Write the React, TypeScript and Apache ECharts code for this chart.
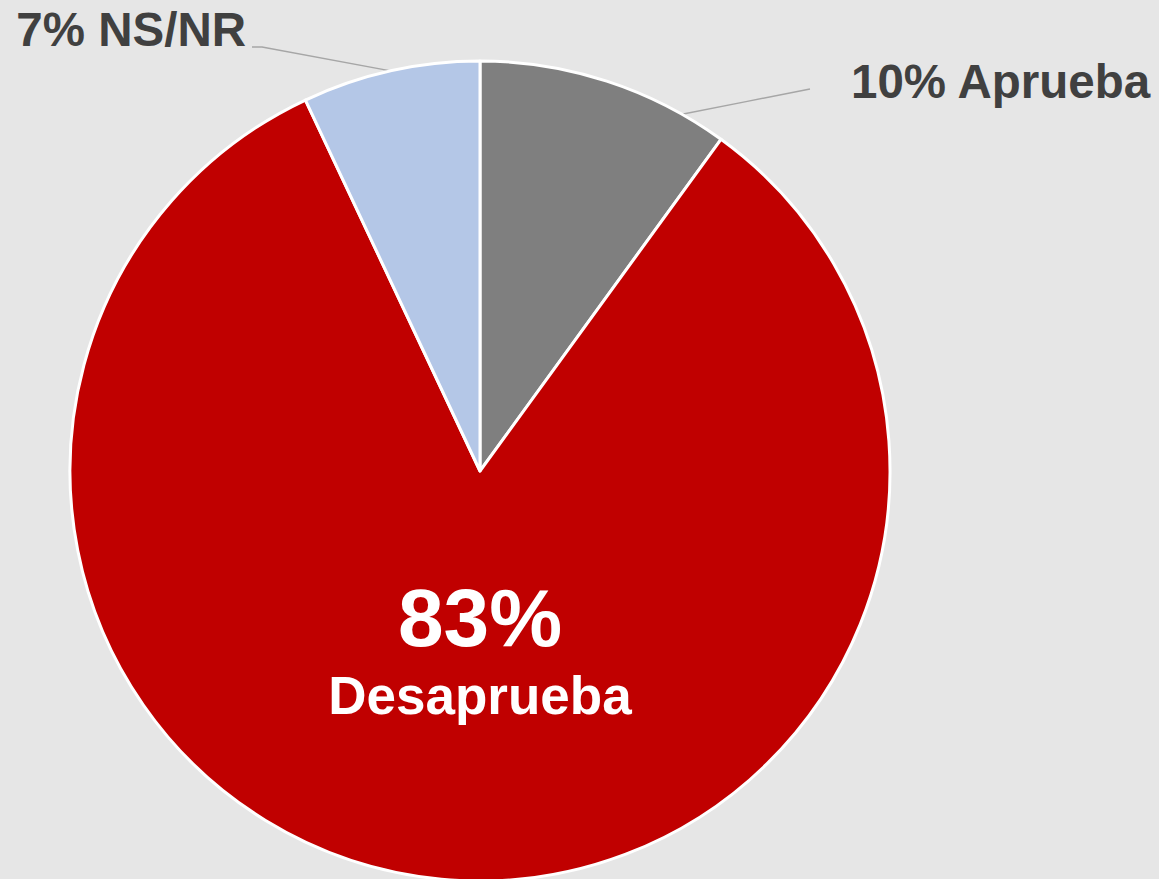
import React, { useEffect, useRef } from "react";
import * as echarts from "echarts";

const categories = ["Aprueba", "Desaprueba", "NS/NR"];
const values = [10, 83, 7];
const colors = ["#7f7f7f", "#c00000", "#b4c7e7"];

const CENTER = [480, 471];
const RADIUS = 410;
const FONT = "'Liberation Sans', Arial, Helvetica, sans-serif";

export default function App() {
  const ref = useRef<HTMLDivElement>(null);

  useEffect(() => {
    document.body.style.margin = "0";
    const chart = echarts.init(ref.current!, null, { renderer: "svg" });
    const total = values.reduce((a, b) => a + b, 0);

    const edgePoint = (idx: number, frac: number) => {
      let start = 0;
      for (let i = 0; i < idx; i++) start += values[i];
      const a = ((start + values[idx] * frac) / total) * Math.PI * 2;
      return [CENTER[0] + RADIUS * Math.sin(a), CENTER[1] - RADIUS * Math.cos(a)];
    };

    const aStart = edgePoint(0, 0.82);
    const aEnd = [810, 89];
    const aMid = [(aStart[0] + aEnd[0]) / 2, (aStart[1] + aEnd[1]) / 2];

    const layouts: Record<number, any> = {
      0: {
        x: 851,
        y: 81,
        align: "left",
        verticalAlign: "middle",
        labelLinePoints: [aStart, aMid, aEnd],
      },
      1: { x: 480, y: 650, align: "center", verticalAlign: "middle" },
      2: {
        x: 246,
        y: 29,
        align: "right",
        verticalAlign: "middle",
        labelLinePoints: [edgePoint(2, 0.5), [262, 47], [252, 47]],
      },
    };

    const data = categories.map((name, i) => {
      const item: any = {
        name,
        value: values[i],
        itemStyle: { color: colors[i] },
      };
      if (name === "Desaprueba") {
        item.label = {
          position: "inside",
          formatter: `{a|${values[i]}%}\n{b|${name}}`,
          rich: {
            a: {
              fontSize: 82,
              fontWeight: "bold",
              color: "#ffffff",
              fontFamily: FONT,
              lineHeight: 90,
              align: "center",
            },
            b: {
              fontSize: 53,
              fontWeight: "bold",
              color: "#ffffff",
              fontFamily: FONT,
              lineHeight: 66,
              align: "center",
            },
          },
        };
        item.labelLine = { show: false };
      }
      return item;
    });

    chart.setOption({
      animation: false,
      backgroundColor: "#e6e6e6",
      series: [
        {
          type: "pie",
          center: CENTER,
          radius: RADIUS,
          startAngle: 90,
          clockwise: true,
          data,
          itemStyle: { borderColor: "#ffffff", borderWidth: 3 },
          label: {
            show: true,
            position: "outside",
            formatter: (p: any) => `${p.value}% ${p.name}`,
            fontSize: 47.5,
            fontWeight: "bold",
            color: "#404040",
            fontFamily: FONT,
          },
          labelLine: {
            show: true,
            lineStyle: { color: "#a6a6a6", width: 1.5 },
          },
          labelLayout: (params: any) => layouts[params.dataIndex],
          emphasis: { disabled: true },
        },
      ],
    });

    return () => chart.dispose();
  }, []);

  return (
    <div
      ref={ref}
      style={{ position: "absolute", left: 0, top: 0, width: 1159, height: 879 }}
    />
  );
}
